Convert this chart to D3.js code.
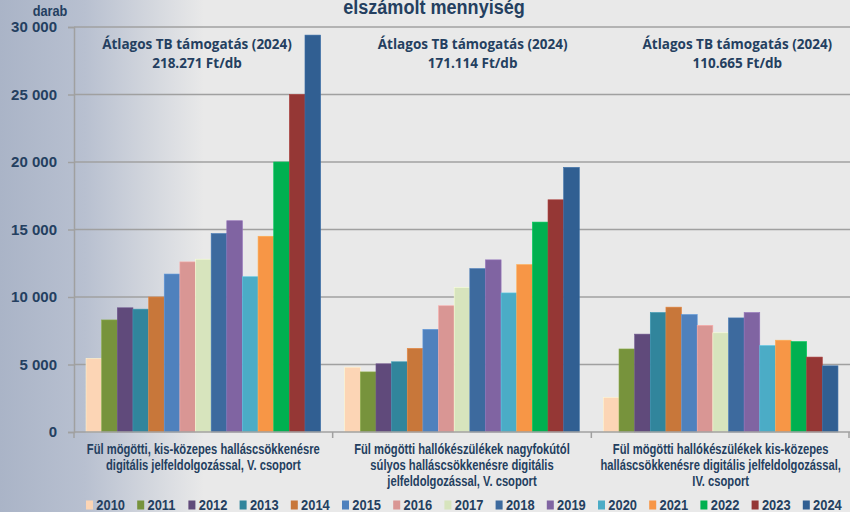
<!DOCTYPE html>
<html>
<head>
<meta charset="utf-8">
<script src="https://cdn.jsdelivr.net/npm/d3@7"></script>
<style>
  body { margin: 0; background: #e9e9e9; }
  text { font-family: "Liberation Sans", Arial, sans-serif; font-weight: bold; }
</style>
</head>
<body>
<script>
var width = 850, height = 512;

// data
var years = ["2010","2011","2012","2013","2014","2015","2016","2017","2018","2019","2020","2021","2022","2023","2024"];
var groups = ["g1", "g2", "g3"];
var groupLabels = [
  ["Fül mögötti, kis-közepes halláscsökkenésre", "digitális jelfeldolgozással, V. csoport"],
  ["Fül mögötti hallókészülékek nagyfokútól", "súlyos halláscsökkenésre digitális", "jelfeldolgozással, V. csoport"],
  ["Fül mögötti hallókészülékek kis-közepes", "halláscsökkenésre digitális jelfeldolgozással,", "IV. csoport"]
];
var avgSupport = ["218.271 Ft/db", "171.114 Ft/db", "110.665 Ft/db"];
var values1 = [5450, 8300, 9200, 9100, 10000, 11700, 12600, 12800, 14700, 15650, 11500, 14500, 20000, 25000, 29400];
var values2 = [4800, 4450, 5050, 5200, 6200, 7600, 9350, 10700, 12100, 12750, 10300, 12400, 15550, 17200, 19600];
var values3 = [2550, 6150, 7250, 8850, 9250, 8700, 7900, 7350, 8450, 8850, 6400, 6800, 6700, 5550, 4900];
var yTicks = [0, 5000, 10000, 15000, 20000, 25000, 30000];
var colors = ["#fcd5b5","#77933c","#604a7b","#31859c","#c8773a","#4f81bd","#d99694","#d7e4bd",
              "#3d6a9e","#8064a2","#4bacc6","#f79646","#00b050","#953735","#315f92"];

var seriesByGroup = [values1, values2, values3];
var textColor = "#243f60";
var narrow = 0.8; // squeeze arial-ish text toward the calibri look

var svg = d3.select("body").append("svg")
    .attr("width", width)
    .attr("height", height);

// background with the bluish fade on the left
var grad = svg.append("defs").append("linearGradient")
    .attr("id", "bg")
    .attr("x1", 0).attr("x2", 1).attr("y1", 0).attr("y2", 0);
grad.append("stop").attr("offset", "0%").attr("stop-color", "#aab4c7");
grad.append("stop").attr("offset", "10%").attr("stop-color", "#b8c0d0");
grad.append("stop").attr("offset", "24%").attr("stop-color", "#e9e9e9");
grad.append("stop").attr("offset", "100%").attr("stop-color", "#e9e9e9");
svg.append("rect").attr("width", width).attr("height", height).attr("fill", "url(#bg)");

var plot = {left: 74, right: 850, top: 27, bottom: 432};

var y = d3.scaleLinear().domain([0, 30000]).range([plot.bottom, plot.top]);
var x0 = d3.scaleBand().domain(groups).range([plot.left, plot.right]);
var x1 = d3.scaleBand().domain(years).range([0, x0.bandwidth()]).paddingOuter(0.77);

// grid lines
svg.append("g")
  .selectAll("line")
  .data(yTicks.slice(1))
  .enter().append("line")
    .attr("x1", plot.left)
    .attr("x2", plot.right)
    .attr("y1", function(d) { return y(d); })
    .attr("y2", function(d) { return y(d); })
    .attr("stroke", "#a0a0a0")
    .attr("stroke-width", 1.5);

// y axis
var fmt = function(d) { return d3.format(",")(d).replace(/,/g, " "); };
var yAxis = svg.append("g")
    .attr("transform", "translate(" + plot.left + ",0)")
    .call(d3.axisLeft(y).tickValues(yTicks).tickSize(6).tickPadding(11).tickFormat(fmt));
yAxis.select(".domain").attr("stroke", "#a0a0a0").attr("stroke-width", 1.5);
yAxis.selectAll(".tick line").attr("stroke", "#a0a0a0").attr("stroke-width", 1.5);
yAxis.selectAll(".tick text")
    .attr("fill", textColor)
    .style("font-size", "15px")
    .style("font-weight", "bold");

// bars
var grp = svg.append("g").selectAll("g")
  .data(groups)
  .enter().append("g")
    .attr("transform", function(d) { return "translate(" + x0(d) + ",0)"; });

grp.selectAll("rect")
  .data(function(d, i) {
    return seriesByGroup[i].map(function(v, j) { return {year: years[j], value: v, color: colors[j]}; });
  })
  .enter().append("rect")
    .attr("x", function(d) { return x1(d.year); })
    .attr("width", x1.bandwidth())
    .attr("y", function(d) { return y(d.value); })
    .attr("height", function(d) { return plot.bottom - y(d.value); })
    .attr("fill", function(d) { return d.color; })
    .attr("stroke", function(d) { return d3.color(d.color).brighter(0.4); })
    .attr("stroke-width", 0.6);

// x axis line and group separators
svg.append("line")
    .attr("x1", plot.left).attr("x2", plot.right)
    .attr("y1", plot.bottom).attr("y2", plot.bottom)
    .attr("stroke", "#a0a0a0").attr("stroke-width", 1.5);
svg.append("g").selectAll("line")
  .data(groups.concat(["end"]))
  .enter().append("line")
    .attr("x1", function(d) { return d == "end" ? plot.right - 1 : x0(d); })
    .attr("x2", function(d) { return d == "end" ? plot.right - 1 : x0(d); })
    .attr("y1", plot.bottom).attr("y2", plot.bottom + 6)
    .attr("stroke", "#a0a0a0").attr("stroke-width", 1.5);

// category labels (squeezed horizontally)
grp.append("g")
    .attr("transform", "translate(" + (x0.bandwidth() / 2) + ",0) scale(" + narrow + ",1)")
  .append("text")
    .attr("text-anchor", "middle")
    .attr("fill", textColor)
    .style("font-size", "14px")
    .selectAll("tspan")
    .data(function(d, i) { return groupLabels[i]; })
    .enter().append("tspan")
      .attr("x", 0)
      .attr("y", function(d, i) { return 454 + i * 16; })
      .text(function(d) { return d; });

// average support notes
var noteX = [123, 140, 146];
var notes = grp.append("text")
    .attr("text-anchor", "middle")
    .attr("fill", textColor)
    .style("font-family", "'Open Sans', sans-serif")
    .style("font-size", "13.5px")
    .style("font-weight", "bold");
notes.append("tspan")
    .attr("x", function(d, i) { return noteX[i]; })
    .attr("y", 49)
    .text("Átlagos TB támogatás (2024)");
notes.append("tspan")
    .attr("x", function(d, i) { return noteX[i]; })
    .attr("y", 68)
    .text(function(d, i) { return avgSupport[i]; });

// title and unit
svg.append("g")
    .attr("transform", "translate(434,0) scale(0.86,1)")
  .append("text")
    .attr("x", 0).attr("y", 14)
    .attr("text-anchor", "middle")
    .attr("fill", textColor)
    .style("font-size", "21px")
    .text("elszámolt mennyiség");
svg.append("g")
    .attr("transform", "translate(50,0) scale(0.85,1)")
  .append("text")
    .attr("x", 0).attr("y", 16)
    .attr("text-anchor", "middle")
    .attr("fill", textColor)
    .style("font-size", "15px")
    .text("darab");

// legend
var legend = svg.append("g").selectAll("g")
  .data(years)
  .enter().append("g")
    .attr("transform", function(d, i) { return "translate(" + (86 + i * 51.2) + ",510)"; });
legend.append("rect")
    .attr("width", 7).attr("height", 9)
    .attr("y", -9.5)
    .attr("fill", function(d, i) { return colors[i]; });
legend.append("text")
    .attr("x", 12).attr("y", 0)
    .attr("fill", textColor)
    .style("font-size", "15px")
    .attr("transform", "scale(0.86,1)")
    .text(function(d) { return d; });
</script>
</body>
</html>
